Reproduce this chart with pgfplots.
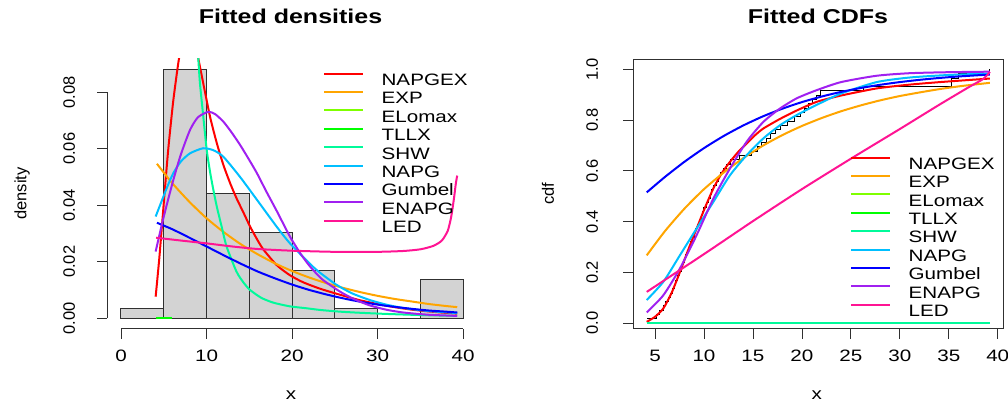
\documentclass[border=0pt]{standalone}
\usepackage{pgfplots}
\pgfplotsset{compat=1.18}
\usepackage{fontspec}
\setmainfont{Liberation Sans}[FakeStretch=1.25]
\newfontfamily\vertfont{Liberation Sans}
\newcommand\txt{\fontsize{16.5}{19}\selectfont}

\definecolor{cNAPGEX}{HTML}{FF0000}
\definecolor{cEXP}{HTML}{FFA500}
\definecolor{cELomax}{HTML}{7FFF00}
\definecolor{cTLLX}{HTML}{00FF00}
\definecolor{cSHW}{HTML}{00FA9A}
\definecolor{cNAPG}{HTML}{00BFFF}
\definecolor{cGumbel}{HTML}{0000FF}
\definecolor{cENAPG}{HTML}{A020F0}
\definecolor{cLED}{HTML}{FF1493}
\definecolor{histfill}{HTML}{D3D3D3}
\definecolor{axgray}{HTML}{303030}

\pgfplotsset{
  rpanel/.style={
    scale only axis,
    tick align=outside,
    major tick length=10pt,
    tick style={axgray, line width=0.8pt},
    xtick pos=bottom, ytick pos=left,
    scaled ticks=false,
    /pgf/number format/assume math mode=true,
    xticklabel style={font=\txt, inner sep=0pt, anchor=north},
    yticklabel style={font=\vertfont\txt, inner sep=0pt, rotate=90, anchor=south},
    xticklabel shift=11pt,
    yticklabel shift=22pt,
    title style={font=\bfseries\fontsize{20}{24}\selectfont, anchor=base},
    xlabel style={font=\txt, anchor=base},
    ylabel style={font=\vertfont\txt, anchor=center},
    legend cell align=left,
    legend style={draw=none, fill=none, inner sep=0pt, font=\txt,
      row sep=0pt, column sep=0pt,
      nodes={inner sep=0pt, text height=15.1pt, text depth=3.3pt}},
    legend image code/.code={\draw[#1, line width=2pt] (0pt,5.9pt) -- (38.4pt,5.9pt);},
    /tikz/every odd column/.append style={column sep=18pt},
    every axis plot/.append style={line width=2pt, smooth, tension=0.4},
  }
}

\begin{document}
\begin{tikzpicture}
\useasboundingbox (0,0) rectangle (1008pt,401pt);

% ---------------- densities ----------------
\begin{axis}[rpanel,
  at={(107.3pt,72.4pt)}, anchor=south west,
  width=369.6pt, height=270.1pt,
  xmin=-1.6, xmax=41.6, ymin=-0.0037, ymax=0.0920,
  axis line style={draw=none},
  clip mode=individual,
  xtick={0,10,20,30,40},
  ytick={0,0.02,0.04,0.06,0.08},
  yticklabels={0.00,0.02,0.04,0.06,0.08},
  title={Fitted densities}, title style={at={(0.4957,1.108)}},
  xlabel={x}, xlabel style={at={(0.497,-0.2618)}},
  ylabel={density}, ylabel style={at={(-0.2308,0.5)}},
  legend style={at={(0.5836,0.957)}, anchor=north west},
]
\addplot[ybar interval, fill=histfill, draw=axgray, line width=1pt, forget plot]
  coordinates {(0,0.00339) (5,0.08814) (10,0.04407) (15,0.03051) (20,0.01695)
               (25,0.00339) (30,0) (35,0.01356) (40,0)};
% NAPGEX
\addplot[cNAPGEX] coordinates {(4.05,0.0076) (4.5,0.022) (5.14,0.046) (5.53,0.060)
  (6.11,0.077) (6.78,0.092) (7.4,0.101) (8.0,0.104) (8.6,0.099) (9.04,0.092)
  (9.43,0.086) (10.4,0.0715) (11.2,0.062) (12.0,0.054) (12.8,0.0475) (13.5,0.0425)
  (14.3,0.0375) (15.08,0.0325) (15.8,0.0285) (16.6,0.0245) (18.2,0.0188) (19.75,0.0152)
  (21.3,0.0127) (23.3,0.0104) (25.6,0.0083) (28,0.0063) (31,0.0044) (34,0.0030)
  (37,0.0021) (39.3,0.0016)};
\addlegendentry{NAPGEX}
% EXP
\addplot[cEXP] coordinates {(4.2,0.0547) (6,0.0478) (8,0.0412) (10,0.0354) (12,0.0305)
  (14,0.0262) (16,0.0226) (18,0.0194) (20,0.0167) (22,0.0144) (24,0.0124) (26,0.0107)
  (28,0.0092) (30,0.0079) (32,0.0068) (34,0.0059) (36,0.0050) (38,0.0043) (39.3,0.0039)};
\addlegendentry{EXP}
% ELomax
\addplot[cELomax] coordinates {(4.1,0) (5.9,0)};
\addlegendentry{ELomax}
% TLLX
\addplot[cTLLX] coordinates {(4.1,0) (5.9,0)};
\addlegendentry{TLLX}
% SHW
\addplot[cSHW] coordinates {(8.3,0.135) (8.7,0.108) (9.04,0.0917) (9.23,0.0832)
  (9.62,0.0714) (10.02,0.0596) (10.4,0.052) (10.8,0.0454) (11.2,0.0395) (11.8,0.032)
  (12.35,0.0253) (13.5,0.0165) (14.3,0.0127) (15.08,0.0100) (16.4,0.0072) (17.8,0.0055)
  (19.7,0.0042) (21.7,0.0035) (23.3,0.0029) (25.6,0.0023) (28,0.0019) (31,0.0015)
  (35,0.0011) (39.3,0.0008)};
\addlegendentry{SHW}
% NAPG
\addplot[cNAPG] coordinates {(4.05,0.036) (5.34,0.046) (6.1,0.0513) (7,0.0555)
  (8.07,0.0584) (9.6,0.0602) (10.8,0.0595) (11.96,0.0572) (13.9,0.0501) (15.9,0.0419)
  (18.2,0.0324) (19.75,0.0265) (22.1,0.0192) (23.3,0.0160) (25.2,0.0118) (27,0.0088)
  (29.1,0.0064) (31,0.0048) (33,0.0036) (36,0.0025) (39.3,0.0018)};
\addlegendentry{NAPG}
% Gumbel
\addplot[cGumbel] coordinates {(4.2,0.0338) (6,0.0315) (8,0.0285) (10,0.0254) (12,0.0223)
  (14,0.0193) (16,0.0165) (18,0.0141) (20,0.0119) (22,0.0100) (24,0.0084) (26,0.0070)
  (28,0.0058) (30,0.0048) (32,0.0040) (34,0.0033) (36,0.0027) (38,0.0023) (39.3,0.0020)};
\addlegendentry{Gumbel}
% ENAPG
\addplot[cENAPG] coordinates {(4.05,0.0236) (5,0.036) (6.12,0.049) (7,0.058) (8.07,0.0667)
  (9,0.0712) (10.2,0.0731) (11.0,0.0723) (12.0,0.0695) (13.0,0.0655) (14.0,0.0610)
  (15.0,0.0560) (15.9,0.0513) (17.0,0.0448) (18.2,0.0380) (19.75,0.0289) (21.0,0.0228)
  (22.1,0.0183) (23.5,0.0138) (25.6,0.0094) (27.2,0.0068) (29,0.0046) (31,0.0030)
  (33,0.0020) (36,0.0012) (39.3,0.0008)};
\addlegendentry{ENAPG}
% LED
\addplot[cLED] coordinates {(4.1,0.0285) (7,0.0275) (10,0.0265) (13,0.0254) (16,0.0245)
  (20,0.0239) (25,0.0235) (30,0.0235) (33,0.0238) (35,0.0244) (36.5,0.0256) (37.5,0.0275)
  (38.2,0.0310) (38.6,0.0360) (38.9,0.0420) (39.15,0.0480) (39.3,0.0505)};
\addlegendentry{LED}
% axis lines spanning the tick range
\draw[axgray, line width=0.8pt] (axis cs:0,-0.0037) -- (axis cs:40,-0.0037);
\draw[axgray, line width=0.8pt] (axis cs:-1.6,0) -- (axis cs:-1.6,0.08);
\end{axis}

% ---------------- CDFs ----------------
\begin{axis}[rpanel,
  at={(633.3pt,72.3pt)}, anchor=south west,
  width=370pt, height=269.7pt,
  xmin=2.78, xmax=40.57, ymin=-0.022, ymax=1.041,
  axis line style={axgray, line width=0.8pt},
  xtick={5,10,15,20,25,30,35,40},
  ytick={0,0.2,0.4,0.6,0.8,1.0},
  yticklabels={0.0,0.2,0.4,0.6,0.8,1.0},
  yticklabel shift=25pt,
  title={Fitted CDFs}, title style={at={(0.499,1.110)}},
  xlabel={x}, xlabel style={at={(0.4957,-0.2618)}},
  ylabel={cdf}, ylabel style={at={(-0.2305,0.5)}},
  legend style={at={(0.5857,0.6474)}, anchor=north west},
]
% empirical cdf
\addplot[const plot, black, line width=0.9pt, forget plot] coordinates {
  (4.2,0.0169) (5.1,0.0339) (5.45,0.0508) (5.87,0.0678) (6.10,0.0847) (6.33,0.1017)
  (6.56,0.1186) (6.77,0.1356) (6.95,0.1525) (7.12,0.1695) (7.30,0.1864) (7.48,0.2034)
  (7.65,0.2203) (7.81,0.2373) (7.97,0.2542) (8.14,0.2712) (8.30,0.2881) (8.47,0.3051)
  (8.65,0.3220) (8.82,0.3390) (8.99,0.3559) (9.16,0.3729) (9.33,0.3898) (9.51,0.4068)
  (9.69,0.4237) (9.86,0.4407) (9.98,0.4576) (10.22,0.4746) (10.41,0.4915) (10.61,0.5085)
  (10.80,0.5254) (11.0,0.5424) (11.24,0.5593) (11.49,0.5763) (11.73,0.5932) (12.02,0.6102)
  (12.34,0.6271) (12.66,0.6441) (13.6,0.6610) (14.8,0.6780) (15.5,0.6949) (15.9,0.7119)
  (16.4,0.7288) (16.8,0.7458) (17.3,0.7627) (17.8,0.7797) (18.5,0.7966) (19.2,0.8136)
  (19.8,0.8305) (20.3,0.8475) (20.7,0.8644) (21.1,0.8814) (21.5,0.8983) (21.85,0.9153)
  (26.3,0.9322) (35.3,0.9661) (36.0,0.9831) (39.2,1.0)};
% NAPGEX
\addplot[cNAPGEX] coordinates {(4.15,0.005) (5,0.025) (5.85,0.058) (6.7,0.12) (7.55,0.202)
  (8.4,0.29) (9.25,0.373) (10.1,0.455) (10.96,0.531) (11.8,0.59) (12.66,0.636) (13.5,0.675)
  (14.36,0.708) (15.2,0.74) (16.06,0.767) (17.77,0.805) (19.47,0.838) (21.5,0.872)
  (24,0.897) (27.64,0.925) (31,0.940) (34.45,0.951) (39.2,0.964)};
\addlegendentry{NAPGEX}
% EXP
\addplot[cEXP] coordinates {(4.15,0.267) (6,0.362) (8,0.451) (10,0.528) (12,0.593)
  (14,0.650) (16,0.699) (18,0.741) (20,0.777) (22,0.808) (24,0.835) (26,0.858) (28,0.878)
  (30,0.895) (32,0.909) (34,0.922) (36,0.933) (38,0.942) (39.2,0.947)};
\addlegendentry{EXP}
% ELomax
\addplot[cELomax] coordinates {(4.15,0) (39.2,0)};
\addlegendentry{ELomax}
% TLLX
\addplot[cTLLX] coordinates {(4.15,0) (39.2,0)};
\addlegendentry{TLLX}
% SHW
\addplot[cSHW] coordinates {(4.15,0) (39.2,0)};
\addlegendentry{SHW}
% NAPG
\addplot[cNAPG] coordinates {(4.15,0.091) (5.85,0.163) (7.55,0.268) (9.25,0.373)
  (10.96,0.478) (12.66,0.583) (14.36,0.662) (16.06,0.728) (17.77,0.780) (19.47,0.820)
  (21.5,0.860) (24,0.905) (27.64,0.950) (31,0.968) (35,0.978) (39.2,0.984)};
\addlegendentry{NAPG}
% Gumbel
\addplot[cGumbel] coordinates {(4.15,0.5152) (6,0.5757) (8,0.6358) (10,0.6897) (12,0.7373)
  (14,0.7788) (16,0.8146) (18,0.8451) (20,0.8711) (22,0.8929) (24,0.9113) (26,0.9266)
  (28,0.9394) (30,0.9500) (32,0.9588) (34,0.9661) (36,0.9721) (38,0.9770) (39.2,0.9794)};
\addlegendentry{Gumbel}
% ENAPG
\addplot[cENAPG] coordinates {(4.15,0.042) (5.85,0.110) (7.55,0.216) (9.25,0.347)
  (10.96,0.491) (12.66,0.61) (14.36,0.715) (16.06,0.793) (17.77,0.846) (19.47,0.886)
  (21.5,0.918) (24,0.950) (27.64,0.975) (31,0.985) (35,0.989) (39.2,0.991)};
\addlegendentry{ENAPG}
% LED
\addplot[cLED] coordinates {(4.15,0.123) (10,0.272) (15,0.402) (20,0.528) (25,0.648)
  (30,0.765) (34,0.860) (37,0.929) (38.5,0.962) (39.2,0.990)};
\addlegendentry{LED}
\end{axis}
\end{tikzpicture}
\end{document}
